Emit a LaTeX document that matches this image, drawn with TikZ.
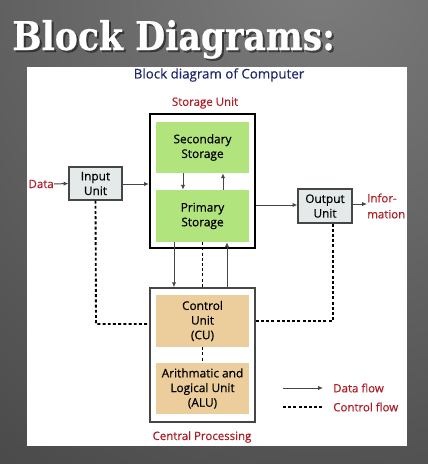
\documentclass[tikz,border=0pt]{standalone}
\usepackage{fontspec}
\setmainfont{Open Sans}[FakeBold=0.45]
\newfontfamily\titlefont{DejaVu Serif}[FakeBold=0.6]
\usetikzlibrary{arrows.meta}
\definecolor{navy}{RGB}{32,40,112}
\definecolor{dred}{RGB}{174,28,38}
\definecolor{lgreen}{RGB}{178,228,126}
\definecolor{tanbox}{RGB}{236,205,156}
\definecolor{boxgray}{RGB}{228,233,233}
\definecolor{linegray}{RGB}{70,70,70}
\definecolor{bgdark}{RGB}{38,38,38}
\definecolor{bglight}{RGB}{124,124,124}
\tikzset{
  x=0.75pt, y=-0.75pt,
  boxtext/.style={font=\fontsize{8.9}{11}\selectfont, align=center, text=black},
  innerbox/.style={boxtext, draw=none, minimum width=69.75pt, inner sep=0pt},
  greenbox/.style={innerbox, fill=lgreen},
  tanbox/.style={innerbox, fill=tanbox},
  unitbox/.style={boxtext, draw=linegray, line width=0.9pt, fill=boxgray, inner sep=0pt},
  frame/.style={minimum width=78.75pt, minimum height=100.5pt, inner sep=0pt},
  redlabel/.style={font=\fontsize{8.6}{10.5}\selectfont, text=dred, inner sep=0pt, align=left},
  dataflow/.style={draw=linegray, line width=0.75pt, -{Latex[length=3.6pt,width=3.2pt]}},
  ctrlflow/.style={draw=black, line width=1.4pt, dash pattern=on 2.2pt off 1.7pt},
}
\begin{document}
\begin{tikzpicture}
\useasboundingbox (0,0) rectangle (428,464);
% background
\begin{scope}
  \clip (0,0) rectangle (428,464);
  \fill[bgdark] (0,0) rectangle (428,464);
  \shade[inner color=bglight, outer color=bgdark] (320,-20) circle (1000);
\end{scope}
% title
\node[anchor=base west, inner sep=0pt, text=black, opacity=0.45] at (14,52)
  {\resizebox{242pt}{22.5pt}{\titlefont\bfseries Block Diagrams:}};
\node (title) [anchor=base west, inner sep=0pt, text=white] at (12,50)
  {\resizebox{242pt}{22.5pt}{\titlefont\bfseries Block Diagrams:}};
% white panel
\fill[white] (27,67) rectangle (407,446);
\node (subtitle) [font=\fontsize{10}{12}\selectfont, text=navy, inner sep=0pt] at (219,75) {Block diagram of Computer};
% storage unit
\node (storlbl) [redlabel] at (205,103) {Storage Unit};
\node (stor) [frame, draw=black, line width=1.5pt] at (202.5,181) {};
\node (sec) [greenbox, minimum height=38.25pt] at (202.5,147.5) {Secondary\\Storage};
\node (prim) [greenbox, minimum height=39pt] at (202.5,216) {Primary\\Storage};
% CPU
\node (cpu) [frame, draw=linegray, line width=1.1pt] at (202.5,355) {};
\node (cu) [tanbox, minimum height=39pt] at (202.5,321) {Control\\Unit\\(CU)};
\node (alu) [tanbox, minimum height=38.25pt] at (202.5,388.5) {Arithmatic and\\Logical Unit\\(ALU)};
\node (cpulbl) [redlabel] at (202,437) {Central Processing};
% input / output
\node (in) [unitbox, minimum width=39.75pt, minimum height=24.75pt] at (95.5,183.5) {Input\\Unit};
\node (out) [unitbox, minimum width=40.5pt, minimum height=25.5pt] at (325,206) {Output\\Unit};
\node (data) [redlabel, anchor=east] at (54,184) {Data};
\node (info) [redlabel, anchor=west, font=\fontsize{8.6}{12}\selectfont] at (367,206) {Infor-\\mation};
% data flows
\draw[dataflow] (data.east) -- (in.west);
\draw[dataflow] (in.east |- 0,184) -- (stor.west |- 0,184);
\draw[dataflow] (stor.east |- 0,205) -- (out.west |- 0,205);
\draw[dataflow] (out.east |- 0,204) -- (info.west |- 0,204);
\draw[dataflow] (sec.south -| 183,0) -- (prim.north -| 183,0);
\draw[dataflow] (prim.north -| 223,0) -- (sec.south -| 223,0);
\draw[dataflow] (prim.south -| 174,0) -- (cpu.north -| 174,0);
\draw[dataflow] (cpu.north -| 227,0) -- (prim.south -| 227,0);
% control flows
\draw[ctrlflow] (prim.south) -- (cpu.north);
\draw[ctrlflow] (cu.south) -- (alu.north);
\draw[ctrlflow] (in.south) -- (96,324) -- (cpu.west |- 0,324);
\draw[ctrlflow] (out.south -| 333,0) -- (333,321) -- (cpu.east |- 0,321);
% legend
\coordinate (l1a) at (283,388);
\coordinate (l1b) at (323,388);
\coordinate (l2a) at (283,407);
\coordinate (l2b) at (323,407);
\draw[dataflow] (l1a) -- (l1b);
\draw[ctrlflow] (l2a) -- (l2b);
\node (lg1) [redlabel, anchor=west] at (333,388) {Data flow};
\node (lg2) [redlabel, anchor=west] at (333,407) {Control flow};
\end{tikzpicture}
\end{document}
